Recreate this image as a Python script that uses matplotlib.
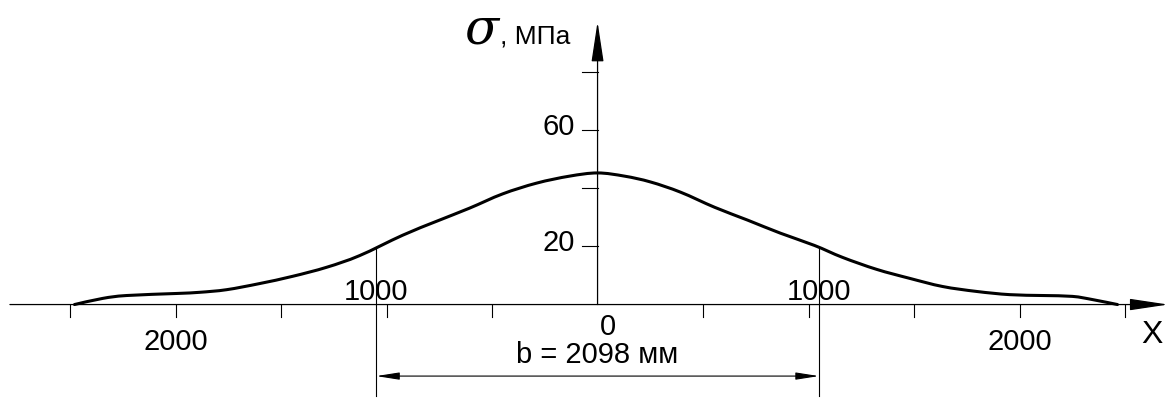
import numpy as np
import matplotlib
matplotlib.use('Agg')
import matplotlib.pyplot as plt
from matplotlib.path import Path
from matplotlib.patches import PathPatch

plt.rcParams['font.family'] = ['Liberation Sans', 'DejaVu Sans']

# stress profile across the width, mm / MPa
x_mm = [-2479, -2346, -2232, -1995, -1886, -1758, -1602, -1445, -1284, -1128,
        -924, -763, -607, -450, -289, -133, 0,
        128, 251, 393, 555, 711, 867, 1028, 1161, 1322, 1479, 1635, 1796, 1953,
        2109, 2251, 2346, 2464]
sigma = [0, 2.1, 3.1, 3.8, 4.2, 5.1, 7.2, 9.7, 12.8, 16.8,
         23.8, 28.6, 33.1, 38.0, 41.7, 44.1, 45.2,
         44.1, 42.1, 38.6, 33.4, 29.0, 24.5, 20.3, 16.2, 12.1, 9.0, 6.2, 4.5, 3.4,
         3.1, 2.8, 1.7, 0]

b_width = 2098
y_ticks = [20, 40, 60, 80]
y_labels = ['20', '', '60', '']
x_ticks = [-2500, -2000, -1500, -1000, -500, 500, 1000, 1500, 2000, 2500]
x_labels = {-2000: '2000', 2000: '2000'}

# pixel scale of the drawing
PX_X = 0.211   # px per mm
PX_Y = 2.91    # px per MPa
def dx(px):
    return px / PX_X
def dy(px):
    return px / PX_Y

def smooth_path(xs, ys):
    # cubic bezier through every point (catmull-rom tangents)
    p = np.column_stack([xs, ys]).astype(float)
    pts = [p[0]]
    codes = [Path.MOVETO]
    n = len(p)
    for i in range(n - 1):
        p0 = p[i - 1] if i > 0 else p[i]
        p3 = p[i + 2] if i + 2 < n else p[i + 1]
        c1 = p[i] + (p[i + 1] - p0) / 6
        c2 = p[i + 1] - (p3 - p[i]) / 6
        pts += [c1, c2, p[i + 1]]
        codes += [Path.CURVE4] * 3
    return Path(pts, codes)

fig = plt.figure(figsize=(11.7, 3.98), dpi=100)
ax = fig.add_axes([0, 0, 1, 1])
ax.set_xlim(-2832, 2713)
ax.set_ylim(-32.1, 104.6)
ax.axis('off')

fs = 21
# axes with arrows
ax.annotate('', xy=(2704, 0), xytext=(-2785, 0),
            arrowprops=dict(arrowstyle='-|>,head_length=24,head_width=3.6', mutation_scale=1,
                            lw=0.9, color='black', shrinkA=0, shrinkB=0))
ax.annotate('', xy=(0, 97.1), xytext=(0, 0),
            arrowprops=dict(arrowstyle='-|>,head_length=25,head_width=3.8', mutation_scale=1,
                            lw=0.9, color='black', shrinkA=0, shrinkB=0))

for v, lab in zip(y_ticks, y_labels):
    ax.plot([-dx(16), 0], [v, v], color='black', lw=0.8)
    if lab:
        ax.text(-dx(23), v + 1, lab, ha='right', va='center', fontsize=fs)

for t in x_ticks:
    ax.plot([t, t], [0, -dy(12)], color='black', lw=0.8)
    if t in x_labels:
        ax.text(t, -dy(23), x_labels[t], ha='center', va='top', fontsize=fs)
ax.text(dx(10), -dy(8), '0', ha='center', va='top', fontsize=fs)
ax.text(dx(554), -dy(30), 'X', ha='center', va='center', fontsize=fs + 2)

# axis title
ax.text(-dx(133), dy(261), 'σ', ha='left', va='baseline', fontsize=36,
        family='DejaVu Serif', style='italic')
ax.text(-dx(98), dy(261), ', МПа', ha='left', va='baseline', fontsize=19)

# curve
ax.add_patch(PathPatch(smooth_path(x_mm, sigma), fill=False, edgecolor='black',
                       lw=2.2, capstyle='round'))

# width dimension
half = b_width / 2
for s in (-half, half):
    top = np.interp(s, x_mm, sigma)
    ax.plot([s, s], [top, -dy(91)], color='black', lw=0.8)
    ax.text(s, dy(5), '1000', ha='center', va='baseline', fontsize=fs)
ax.annotate('', xy=(half, -dy(71.5)), xytext=(-half, -dy(71.5)),
            arrowprops=dict(arrowstyle='<|-|>,head_length=14,head_width=2.2', mutation_scale=1,
                            lw=0.8, color='black', shrinkA=0, shrinkB=0))
ax.text(0, -dy(58.5), 'b = %d мм' % b_width, ha='center', va='baseline', fontsize=fs)

fig.savefig('out.png', dpi=100)
